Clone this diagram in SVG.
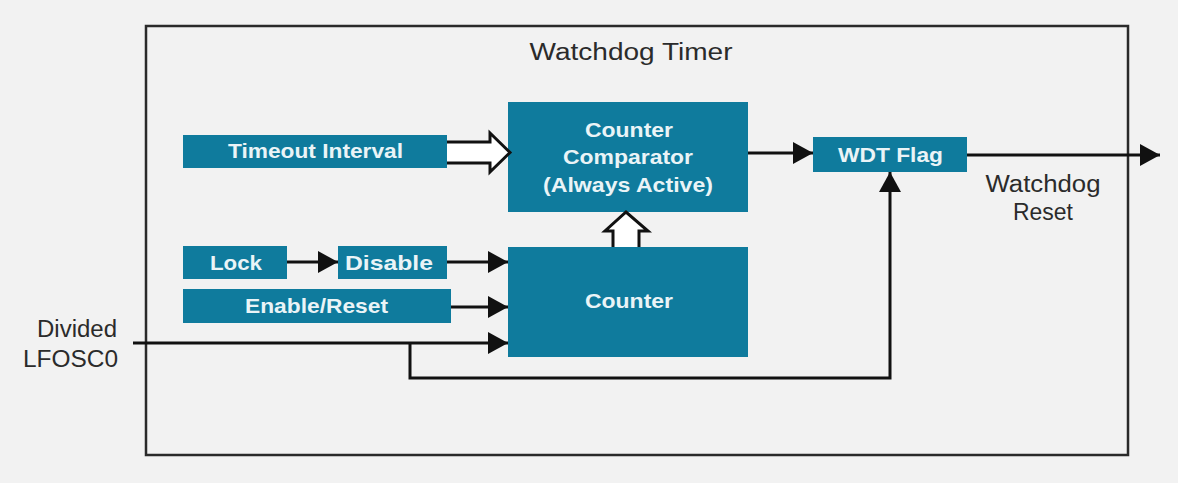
<svg xmlns="http://www.w3.org/2000/svg" width="1178" height="483" viewBox="0 0 1178 483">
  <style>
    .box { fill: #0f7b9d; }
    .bt { font-family: "Liberation Sans", Arial, sans-serif; font-weight: bold; font-size: 21px; fill: #eaf4f7; text-anchor: middle; }
    .lt { font-family: "Liberation Sans", Arial, sans-serif; font-size: 23px; fill: #2b2b2b; }
    .ln { fill: none; stroke: #111; stroke-width: 3; }
    .hollow { fill: #ffffff; stroke: #111; stroke-width: 3; stroke-linejoin: miter; }
  </style>
  <defs>
    <marker id="ah" markerUnits="userSpaceOnUse" markerWidth="22" markerHeight="24" refX="20" refY="11" orient="auto">
      <path d="M0,0 L20,11 L0,22 Z" fill="#111"/>
    </marker>
  </defs>
  <rect x="0" y="0" width="1178" height="483" fill="#f2f2f2"/>
  <g id="frame">
    <rect x="146" y="26" width="982" height="429" fill="#f2f2f2" stroke="#2a2a2a" stroke-width="2.5"/>
    <text class="lt" x="631" y="60" font-size="24" text-anchor="middle" textLength="203" lengthAdjust="spacingAndGlyphs">Watchdog Timer</text>
  </g>
  <g id="timeout">
    <rect class="box" x="183" y="135" width="264" height="33"/>
    <text class="bt" x="315.5" y="158" textLength="175" lengthAdjust="spacingAndGlyphs">Timeout Interval</text>
  </g>
  <g id="comparator">
    <rect class="box" x="508" y="102" width="240" height="110"/>
    <text class="bt" x="629" y="137" textLength="88" lengthAdjust="spacingAndGlyphs">Counter</text>
    <text class="bt" x="628" y="164" textLength="130" lengthAdjust="spacingAndGlyphs">Comparator</text>
    <text class="bt" x="628" y="192" textLength="170" lengthAdjust="spacingAndGlyphs">(Always Active)</text>
  </g>
  <g id="wdtflag">
    <rect class="box" x="813" y="137" width="154" height="35"/>
    <text class="bt" x="890.5" y="162" textLength="105" lengthAdjust="spacingAndGlyphs">WDT Flag</text>
  </g>
  <g id="lock">
    <rect class="box" x="183" y="246" width="104" height="33"/>
    <text class="bt" x="236" y="270" textLength="52" lengthAdjust="spacingAndGlyphs">Lock</text>
  </g>
  <g id="disable">
    <rect class="box" x="338" y="246" width="109" height="33"/>
    <text class="bt" x="389" y="270" textLength="88" lengthAdjust="spacingAndGlyphs">Disable</text>
  </g>
  <g id="enable">
    <rect class="box" x="183" y="289" width="268" height="34"/>
    <text class="bt" x="316.5" y="313" textLength="143" lengthAdjust="spacingAndGlyphs">Enable/Reset</text>
  </g>
  <g id="counter">
    <rect class="box" x="508" y="247" width="240" height="110"/>
    <text class="bt" x="629" y="308" textLength="88" lengthAdjust="spacingAndGlyphs">Counter</text>
  </g>
  <g id="labels">
    <text class="lt" x="117" y="337" text-anchor="end" textLength="80" lengthAdjust="spacingAndGlyphs">Divided</text>
    <text class="lt" x="118" y="367" text-anchor="end" textLength="95" lengthAdjust="spacingAndGlyphs">LFOSC0</text>
    <text class="lt" x="1043" y="192" text-anchor="middle" textLength="115" lengthAdjust="spacingAndGlyphs">Watchdog</text>
    <text class="lt" x="1043" y="220" text-anchor="middle" textLength="60" lengthAdjust="spacingAndGlyphs">Reset</text>
  </g>
  <g id="connectors">
    <path class="hollow" d="M447,142 L490,142 L490,133 L510,152.5 L490,172 L490,163 L447,163"/>
    <path class="hollow" d="M613,247 L613,231 L605,231 L626,212 L648,231 L639,231 L639,247"/>
    <line class="ln" x1="748" y1="153" x2="813" y2="153" marker-end="url(#ah)"/>
    <line class="ln" x1="967" y1="155" x2="1160" y2="155" marker-end="url(#ah)"/>
    <line class="ln" x1="287" y1="262" x2="338" y2="262" marker-end="url(#ah)"/>
    <line class="ln" x1="447" y1="262" x2="508" y2="262" marker-end="url(#ah)"/>
    <line class="ln" x1="451" y1="307" x2="508" y2="307" marker-end="url(#ah)"/>
    <line class="ln" x1="133" y1="343" x2="508" y2="343" marker-end="url(#ah)"/>
    <path class="ln" d="M410,343 L410,378 L890,378 L890,172" marker-end="url(#ah)"/>
  </g>
</svg>
